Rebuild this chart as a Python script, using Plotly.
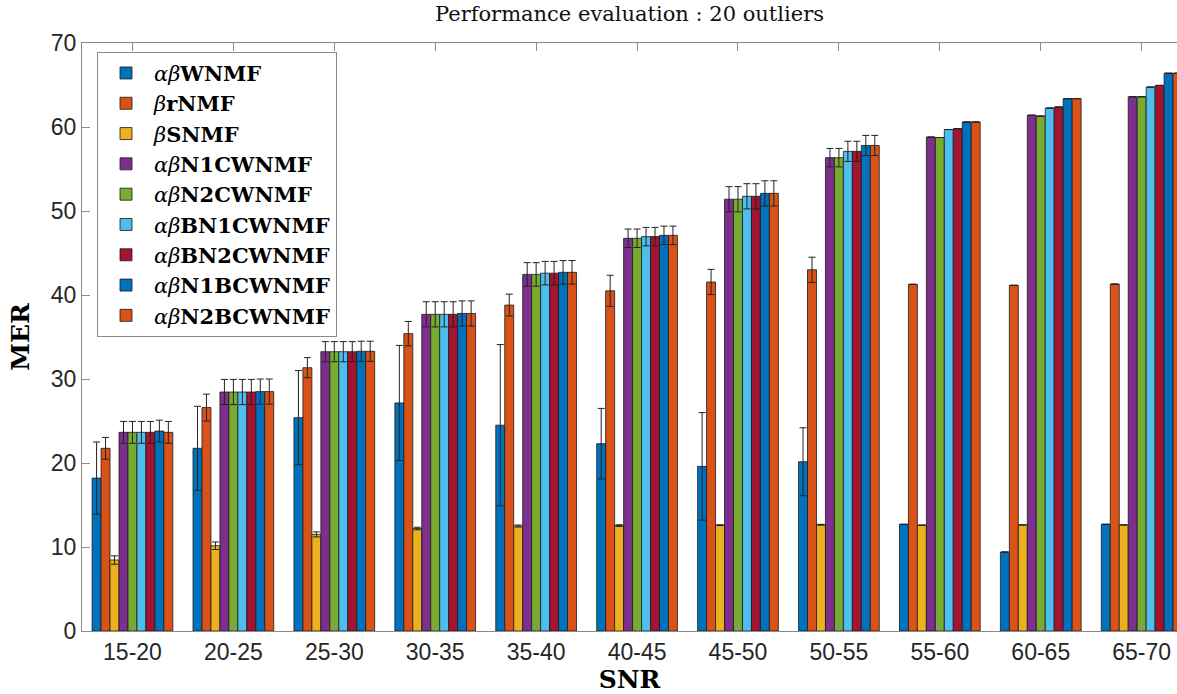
import plotly.graph_objects as go

categories = ["15-20", "20-25", "25-30", "30-35", "35-40", "40-45",
              "45-50", "50-55", "55-60", "60-65", "65-70"]

names = ["<i>αβ</i><b>WNMF</b>", "<i>β</i><b>rNMF</b>", "<i>β</i><b>SNMF</b>",
         "<i>αβ</i><b>N1CWNMF</b>", "<i>αβ</i><b>N2CWNMF</b>",
         "<i>αβ</i><b>BN1CWNMF</b>", "<i>αβ</i><b>BN2CWNMF</b>",
         "<i>αβ</i><b>N1BCWNMF</b>", "<i>αβ</i><b>N2BCWNMF</b>"]

colors = ["#0072BD", "#D95319", "#EDB120", "#7E2F8E", "#77AC30",
          "#4DBEEE", "#A2142F", "#0072BD", "#D95319"]

wnmf = [18.2, 21.75, 25.4, 27.15, 24.5, 22.3, 19.6, 20.15, 12.7, 9.4, 12.7]
wnmf_err = [4.3, 5.0, 5.6, 6.85, 9.6, 4.2, 6.4, 4.05, 0, 0, 0]
rnmf = [21.75, 26.6, 31.35, 35.4, 38.8, 40.5, 41.55, 43.0, 41.27, 41.15, 41.3]
rnmf_err = [1.3, 1.6, 1.2, 1.45, 1.3, 1.85, 1.5, 1.5, 0, 0, 0]
snmf = [8.45, 10.15, 11.5, 12.2, 12.5, 12.55, 12.6, 12.65, 12.6, 12.63, 12.63]
snmf_err = [0.5, 0.45, 0.3, 0.15, 0.12, 0.1, 0.05, 0.05, 0, 0, 0]
n1c = [23.65, 28.45, 33.25, 37.7, 42.45, 46.75, 51.4, 56.35, 58.8, 61.4, 63.6]
n1c_err = [1.3, 1.5, 1.2, 1.5, 1.4, 1.1, 1.5, 1.1, 0, 0, 0]
n2c = [23.65, 28.45, 33.25, 37.7, 42.45, 46.75, 51.4, 56.35, 58.75, 61.3, 63.6]
n2c_err = [1.3, 1.5, 1.2, 1.5, 1.4, 1.1, 1.5, 1.1, 0, 0, 0]
bn1c = [23.65, 28.45, 33.25, 37.7, 42.6, 46.95, 51.75, 57.1, 59.7, 62.25, 64.75]
bn1c_err = [1.3, 1.5, 1.2, 1.5, 1.4, 1.1, 1.5, 1.2, 0, 0, 0]
bn2c = [23.65, 28.45, 33.25, 37.7, 42.6, 46.95, 51.75, 57.1, 59.8, 62.38, 64.95]
bn2c_err = [1.3, 1.5, 1.2, 1.5, 1.4, 1.1, 1.5, 1.2, 0, 0, 0]
n1bc = [23.8, 28.5, 33.3, 37.8, 42.7, 47.1, 52.1, 57.8, 60.6, 63.38, 66.4]
n1bc_err = [1.3, 1.5, 1.2, 1.5, 1.4, 1.1, 1.5, 1.2, 0, 0, 0]
n2bc = [23.65, 28.5, 33.3, 37.8, 42.7, 47.1, 52.1, 57.8, 60.6, 63.38, 66.4]
n2bc_err = [1.3, 1.5, 1.2, 1.5, 1.4, 1.1, 1.5, 1.2, 0, 0, 0]

values = [wnmf, rnmf, snmf, n1c, n2c, bn1c, bn2c, n1bc, n2bc]
errors = [wnmf_err, rnmf_err, snmf_err, n1c_err, n2c_err, bn1c_err, bn2c_err, n1bc_err, n2bc_err]

y_ticks = [0, 10, 20, 30, 40, 50, 60, 70]

fig = go.Figure()
for name, col, vals, errs in zip(names, colors, values, errors):
    fig.add_trace(go.Bar(
        x=categories, y=vals, name=name,
        marker=dict(color=col, line=dict(color="#1a1a1a", width=0.8)),
        error_y=dict(type="data", array=errs, visible=True,
                     color="#222222", thickness=1, width=3.5),
    ))

axis_gray = "#8a8a8a"
fig.update_layout(
    width=1177, height=694,
    margin=dict(l=82, r=0, t=43, b=63),
    paper_bgcolor="white", plot_bgcolor="white",
    barmode="group", bargap=0.2, bargroupgap=0.0,
    title=dict(text="Performance evaluation : 20 outliers",
               font=dict(family="DejaVu Serif", size=21, color="#111"),
               x=0.5, xref="paper", y=1 - 14 / 694, yref="container",
               xanchor="center", yanchor="middle"),
    legend=dict(x=0.0137, y=0.985, xanchor="left", yanchor="top",
                bgcolor="white", bordercolor=axis_gray, borderwidth=1,
                font=dict(family="DejaVu Serif", size=21, color="#000"),
                tracegroupgap=0, itemwidth=46),
    xaxis=dict(range=[-0.5, 10.35], showline=True, linecolor=axis_gray,
               linewidth=1, mirror="ticks", ticks="inside", ticklen=8,
               tickcolor=axis_gray, showgrid=False,
               tickfont=dict(family="Liberation Sans", size=23, color="#262626"),
               title=dict(text="<b>SNR</b>", standoff=6,
                          font=dict(family="DejaVu Serif", size=25, color="#000"))),
    yaxis=dict(range=[0, 70], tickvals=y_ticks, showline=True, linecolor=axis_gray,
               linewidth=1, ticks="inside", ticklen=8, tickcolor=axis_gray,
               showgrid=False, zeroline=False,
               tickfont=dict(family="Liberation Sans", size=23, color="#262626"),
               title=dict(text="<b>MER</b>", standoff=14,
                          font=dict(family="DejaVu Serif", size=25, color="#000"))),
)

fig.write_html("out.html")
